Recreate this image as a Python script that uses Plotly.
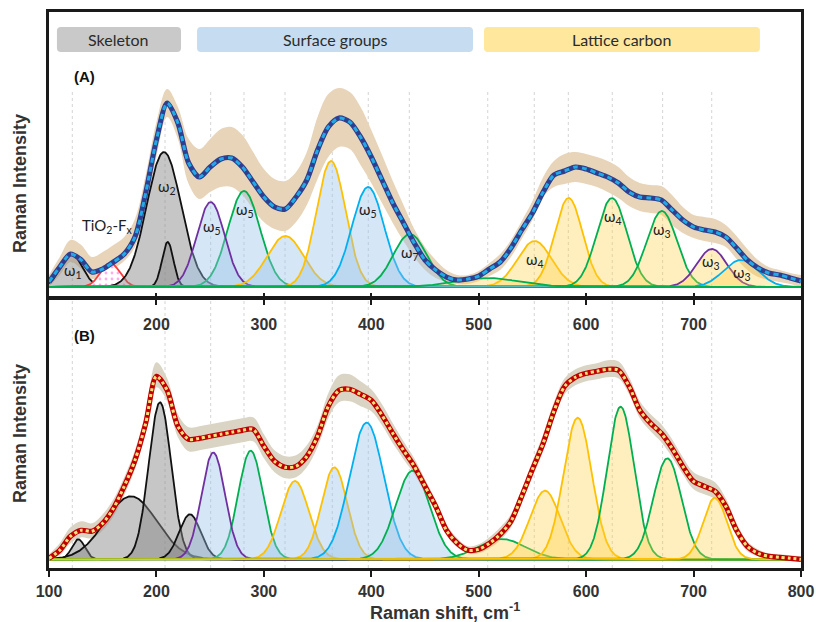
import numpy as np
import plotly.graph_objects as go

# ---------------- DATA ----------------
x_grid = list(range(100, 801, 10))

# Panel A: measured average spectrum and its band (arbitrary intensity units)
env_a = [5, 20, 33, 27, 15, 18, 25, 33, 50, 94, 147, 184, 164, 124, 110, 120, 128, 129, 120, 105,
         90, 80, 78, 90, 107, 137, 160, 169, 165, 150, 130, 107, 84, 64, 44, 27, 17, 10, 7, 8,
         11, 18, 25, 39, 57, 74, 95, 112, 116, 120, 118, 114, 110, 104, 95, 90, 89, 87, 77, 67,
         60, 57, 55, 50, 39, 27, 19, 14, 12, 9, 6]
band_a_upper = [12, 30, 47, 42, 30, 35, 42, 50, 68, 112, 165, 198, 180, 148, 138, 148, 158, 160, 152, 135,
                118, 108, 106, 115, 135, 170, 193, 199, 195, 180, 157, 132, 106, 82, 58, 40, 27, 17, 12, 12,
                16, 24, 33, 47, 66, 86, 110, 126, 133, 135, 133, 130, 126, 120, 110, 104, 102, 101, 92, 80,
                72, 70, 68, 62, 51, 38, 27, 20, 17, 14, 12]
band_a_lower = [0, 12, 25, 18, 8, 12, 18, 26, 40, 78, 130, 170, 148, 103, 88, 95, 100, 100, 92, 78,
                65, 58, 56, 65, 82, 108, 130, 140, 138, 122, 104, 84, 64, 46, 30, 17, 9, 5, 3, 3,
                6, 11, 17, 30, 48, 67, 90, 100, 103, 105, 103, 100, 95, 89, 81, 76, 74, 72, 62, 54,
                49, 46, 44, 40, 28, 17, 10, 7, 5, 3, 0]

# Panel A fitted components (drawing order)
comp_a_name = ["w1", "TiO2-Fx", "w2", "w2b", "w5g", "w5p", "y320", "y362", "w5b", "w7",
               "w4y", "y584", "w4g", "w3g", "w3p", "w3b", "g508"]
comp_a_group = ["skeleton", "tio2", "skeleton", "skeleton", "surface", "surface", "surface", "surface",
                "surface", "surface", "lattice", "lattice", "lattice", "lattice", "lattice", "lattice", "lattice"]
comp_a_kind = ["black", "red", "black", "black", "green", "purple", "yellow", "yellow", "blue", "green",
               "yellow", "yellow", "green", "green", "purple", "blue", "green"]
comp_a_center = [121, 157, 207, 210.5, 281.5, 250.5, 320, 362.5, 397, 436, 552, 583.7, 624, 670.5, 717, 744, 508]
comp_a_height = [33, 24, 135, 45, 96, 85, 51, 126, 100, 53, 46, 89, 89, 76, 38, 27, 9]
comp_a_width = [10, 9, 16, 5.3, 15, 13, 17, 13.5, 15, 15.5, 16, 13, 14, 14, 14, 16, 30]

# Panel B: measured spectrum and band
env_b = [1, 9, 23, 29, 28, 36, 51, 73, 99, 136, 183, 169, 133, 120, 121, 123, 125, 127, 129, 130,
         113, 98, 92, 93, 103, 123, 153, 169, 170, 165, 159, 144, 126, 109, 93, 73, 53, 29, 16, 9,
         10, 16, 25, 38, 63, 90, 116, 148, 173, 182, 186, 188, 190, 189, 173, 149, 136, 126, 111, 93,
         78, 73, 68, 53, 29, 13, 6, 3, 2, 1, 0]
band_b_upper = [5, 16, 32, 38, 36, 45, 60, 82, 109, 147, 197, 181, 145, 132, 133, 135, 137, 139, 141, 142,
                125, 109, 103, 104, 114, 134, 166, 184, 185, 178, 170, 155, 136, 118, 101, 80, 59, 35, 21, 13,
                15, 22, 32, 45, 70, 98, 125, 157, 181, 190, 194, 196, 199, 198, 182, 158, 145, 135, 120, 102,
                87, 82, 77, 61, 36, 18, 10, 6, 5, 4, 3]
band_b_lower = [0, 4, 16, 22, 21, 29, 43, 64, 90, 126, 172, 158, 122, 108, 109, 111, 113, 115, 117, 118,
                101, 87, 81, 82, 92, 112, 141, 157, 158, 153, 148, 134, 116, 100, 85, 66, 47, 24, 12, 6,
                6, 11, 19, 32, 56, 82, 108, 140, 165, 174, 178, 180, 182, 181, 165, 141, 128, 117, 102, 85,
                70, 65, 60, 45, 23, 8, 3, 1, 0, 0, 0]

comp_b_group = ["skeleton", "skeleton", "skeleton", "skeleton", "surface", "surface", "surface", "surface",
                "surface", "surface", "lattice", "lattice", "lattice", "lattice", "lattice", "lattice"]
comp_b_kind = ["black", "black", "black", "black", "green", "purple", "yellow", "yellow", "blue", "green",
               "green", "yellow", "yellow", "green", "green", "yellow"]
comp_b_center = [127.3, 176.3, 203.3, 231.2, 287.7, 252.9, 329, 365.6, 395.7, 438.5, 521.4, 561.7, 592.1, 632.1, 675.6, 719.9]
comp_b_height = [20, 63, 157, 45, 108.6, 106.7, 78.3, 92, 136.6, 88.6, 20.3, 68.6, 141.6, 152.6, 101, 61.6]
comp_b_width = [6, 24, 10.5, 10, 11.5, 11, 13, 12, 16, 15.8, 22, 14, 13.2, 12.5, 13, 11]

# Dotted reference lines (peak positions)
grid_x = [121.7, 208, 250.5, 281.5, 319.7, 363.7, 397.2, 435.4, 508.4, 551.7, 583.4, 624.3, 671.2, 716.9]

# Peak labels in panel A
label_text = ["ω<sub>1</sub>", "TiO<sub>2</sub>-F<sub>x</sub>", "ω<sub>2</sub>", "ω<sub>5</sub>", "ω<sub>5</sub>",
              "ω<sub>5</sub>", "ω<sub>7</sub>", "ω<sub>4</sub>", "ω<sub>4</sub>", "ω<sub>3</sub>",
              "ω<sub>3</sub>", "ω<sub>3</sub>"]
label_x = [122.3, 154, 209.6, 251.4, 282.4, 397.2, 436, 552.4, 625.3, 670.9, 716, 744.8]
label_y = [16, 61, 100, 60, 77, 77, 34, 27, 70, 57, 25, 14]

category_names = ["Skeleton", "Surface groups", "Lattice carbon"]
category_x0 = [107.4, 237.8, 504.9]
category_x1 = [222.9, 494.7, 761.8]

tick_vals = [100, 200, 300, 400, 500, 600, 700, 800]

# ---------------- STYLE ----------------
line_colors = {"black": "#111111", "red": "#FF3B3B", "green": "#00B050", "purple": "#7030A0",
               "yellow": "#FFC000", "blue": "#00B0F0"}
fill_colors = {"skeleton": "rgba(135,135,135,0.48)", "surface": "rgba(150,192,232,0.40)",
               "lattice": "rgba(255,205,60,0.33)", "tio2": "rgba(255,255,255,1)"}
box_colors = ["#C9C9C9", "#C6DCF1", "#FFE79D"]

xs = np.linspace(100, 800, 1401)


def gauss(c, h, w):
    return h * np.exp(-((xs - c) ** 2) / (2 * w ** 2))


fig = go.Figure()


def add_band(upper, lower, color, xa, ya):
    fig.add_trace(go.Scatter(x=x_grid, y=lower, mode="lines", line=dict(width=0, shape="spline", smoothing=1),
                             xaxis=xa, yaxis=ya, hoverinfo="skip", showlegend=False))
    fig.add_trace(go.Scatter(x=x_grid, y=upper, mode="lines", line=dict(width=0, shape="spline", smoothing=1),
                             fill="tonexty", fillcolor=color, xaxis=xa, yaxis=ya, hoverinfo="skip",
                             showlegend=False))


def add_components(centers, heights, widths, groups, kinds, xa, ya):
    for c, h, w, g, k in zip(centers, heights, widths, groups, kinds):
        kw = {}
        if g == "tio2":
            kw["fillpattern"] = dict(shape=".", fgcolor="#FF5CD6", bgcolor="white", size=6, solidity=0.18)
        fig.add_trace(go.Scatter(x=xs, y=gauss(c, h, w), mode="lines",
                                 line=dict(color=line_colors[k], width=1.8),
                                 fill="tozeroy", fillcolor=fill_colors[g], xaxis=xa, yaxis=ya,
                                 hoverinfo="skip", showlegend=False, **kw))


def add_envelope(env, base_col, dash_col, dash, xa, ya):
    fig.add_trace(go.Scatter(x=x_grid, y=env, mode="lines",
                             line=dict(color=base_col, width=5.2, shape="spline", smoothing=0.8),
                             xaxis=xa, yaxis=ya, hoverinfo="skip", showlegend=False))
    fig.add_trace(go.Scatter(x=x_grid, y=env, mode="lines",
                             line=dict(color=dash_col, width=3, dash=dash, shape="spline", smoothing=0.8),
                             xaxis=xa, yaxis=ya, hoverinfo="skip", showlegend=False))


# Panel A
add_band(band_a_upper, band_a_lower, "#E8D4B8", "x", "y")
add_components(comp_a_center, comp_a_height, comp_a_width, comp_a_group, comp_a_kind, "x", "y")
add_envelope(env_a, "#2E3F8F", "#22AAE6", "5px,4px", "x", "y")

# Panel B
add_band(band_b_upper, band_b_lower, "#DAD4C4", "x2", "y2")
add_components(comp_b_center, comp_b_height, comp_b_width, comp_b_group, comp_b_kind, "x2", "y2")
add_envelope(env_b, "#C00000", "#FFE07A", "3px,3px", "x2", "y2")

# empty trace so the mirrored top axis of panel B is drawn
fig.add_trace(go.Scatter(x=[], y=[], xaxis="x3", yaxis="y2", showlegend=False, hoverinfo="skip"))

# ---------------- LAYOUT ----------------
shapes = []
for gx in grid_x:
    shapes.append(dict(type="line", xref="x", yref="y", x0=gx, x1=gx, y0=0, y1=197,
                       line=dict(color="#D4D4D4", width=1, dash="dot"), layer="below"))
    shapes.append(dict(type="line", xref="x2", yref="y2 domain", x0=gx, x1=gx, y0=0, y1=1,
                       line=dict(color="#D4D4D4", width=1, dash="dot"), layer="below"))


def rrect(x0, x1, y0, y1, rx, ry):
    return (f"M{x0 + rx},{y0} L{x1 - rx},{y0} Q{x1},{y0} {x1},{y0 + ry} L{x1},{y1 - ry} "
            f"Q{x1},{y1} {x1 - rx},{y1} L{x0 + rx},{y1} Q{x0},{y1} {x0},{y1 - ry} "
            f"L{x0},{y0 + ry} Q{x0},{y0} {x0 + rx},{y0} Z")


annotations = []
for name, bx0, bx1, col in zip(category_names, category_x0, category_x1, box_colors):
    shapes.append(dict(type="path", xref="x", yref="y", path=rrect(bx0, bx1, 235, 260, 3.7, 4),
                       fillcolor=col, line=dict(width=0), layer="above"))
    annotations.append(dict(x=(bx0 + bx1) / 2, y=247.5, xref="x", yref="y", text=name, showarrow=False,
                            font=dict(family="Lato, Open Sans, sans-serif", size=16, color="#2B2B2B")))

for t, lx, ly in zip(label_text, label_x, label_y):
    annotations.append(dict(x=lx, y=ly, xref="x", yref="y", text=t, showarrow=False,
                            font=dict(family="Lato, Open Sans, sans-serif", size=15, color="#222222")))

annotations.append(dict(x=133.5, y=211, xref="x", yref="y", text="<b>(A)</b>", showarrow=False,
                        font=dict(family="Liberation Sans, Arial", size=15, color="#111")))
annotations.append(dict(x=133.5, y=224, xref="x2", yref="y2", text="<b>(B)</b>", showarrow=False,
                        font=dict(family="Liberation Sans, Arial", size=15, color="#111")))

for yc in [0.6924, 0.2428]:
    annotations.append(dict(x=-0.0386, y=yc, xref="paper", yref="paper", text="<b>Raman Intensity</b>",
                            textangle=-90, showarrow=False, xanchor="center", yanchor="middle",
                            font=dict(family="Liberation Sans, Arial", size=18, color="#333333")))
annotations.append(dict(x=0.5266, y=-0.079, xref="paper", yref="paper", xanchor="center", yanchor="middle",
                        text="<b>Raman shift, cm<sup>-1</sup></b>", showarrow=False,
                        font=dict(family="Liberation Sans, Arial", size=18, color="#333333")))

axis_line = dict(showline=True, linecolor="#1A1A1A", linewidth=2.8, mirror=True, showgrid=False,
                 zeroline=False, automargin=False)

fig.update_layout(
    width=816, height=622,
    margin=dict(l=49, r=15, t=12, b=54),
    paper_bgcolor="white", plot_bgcolor="white",
    showlegend=False, hovermode=False,
    xaxis=dict(range=[100, 800], anchor="y", tickvals=tick_vals[1:-1], ticks="inside", ticklen=4,
               tickwidth=1.5, tickcolor="#1A1A1A", showticklabels=False, **axis_line),
    yaxis=dict(range=[-10, 275], domain=[0.4874, 1], anchor="x", showticklabels=False, ticks="", **axis_line),
    xaxis2=dict(range=[100, 800], anchor="y2", tickvals=tick_vals, ticks="outside", ticklen=6,
                tickwidth=2, tickcolor="#1A1A1A", ticklabelstandoff=1,
                tickfont=dict(family="Liberation Sans, Arial", size=16, color="#333333", weight="bold"),
                **axis_line),
    yaxis2=dict(range=[-8.7, 260.3], domain=[0, 0.4838], anchor="x2", showticklabels=False, ticks="",
                **axis_line),
    xaxis3=dict(range=[100, 800], overlaying="x2", anchor="y2", side="top", tickvals=tick_vals[1:-1],
                ticks="inside", ticklen=6, tickwidth=2, tickcolor="#1A1A1A", ticklabelposition="inside",
                ticklabelstandoff=14, automargin=False,
                tickfont=dict(family="Liberation Sans, Arial", size=16, color="#333333", weight="bold"),
                showline=False, showgrid=False, zeroline=False),
    shapes=shapes,
    annotations=annotations,
)

fig.write_html("out.html")
